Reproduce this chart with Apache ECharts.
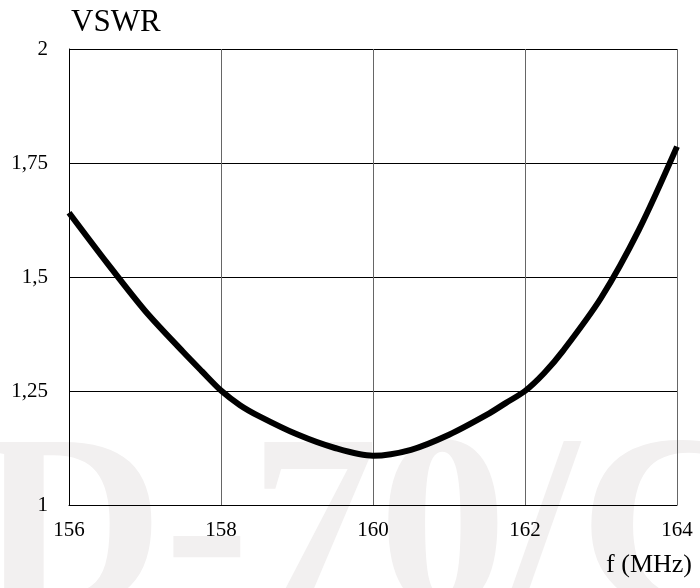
<!DOCTYPE html>
<html>
<head>
<meta charset="utf-8">
<script src="https://cdn.jsdelivr.net/npm/echarts@6/dist/echarts.min.js"></script>
<style>
  html, body { margin: 0; padding: 0; background: #fff; }
  #chart { width: 700px; height: 588px; }
</style>
</head>
<body>
<div id="chart"></div>
<script>
// frequency (MHz) and VSWR
const freq = [156, 156.5, 157, 157.5, 157.75, 158, 158.25, 158.5, 159, 159.5, 160, 160.5, 161, 161.5, 161.75, 162, 162.25, 162.5, 163, 163.5, 164];
const vswr = [1.641, 1.531, 1.426, 1.336, 1.293, 1.251, 1.219, 1.195, 1.155, 1.125, 1.108, 1.121, 1.154, 1.198, 1.224, 1.250, 1.289, 1.338, 1.454, 1.604, 1.786];
const xTicks = [156, 158, 160, 162, 164];
const yTicks = [1, 1.25, 1.5, 1.75, 2];

const serif = '"Liberation Serif", "DejaVu Serif", serif';
const chart = echarts.init(document.getElementById('chart'));

chart.setOption({
  animation: false,
  backgroundColor: '#fff',
  grid: { left: 69, right: 23, top: 49, bottom: 83 },
  // watermark + axis captions
  graphic: [
    {
      type: 'text', z: -100, x: -22, y: 541, scaleX: 1.03,
      silent: true,
      style: {
        text: 'D-70/C', fill: '#f2f0f0',
        font: 'bold 250px ' + serif, verticalAlign: 'middle'
      }
    },
    {
      type: 'text', x: 71, y: 23,
      style: { text: 'VSWR', fill: '#000', font: '31px ' + serif, verticalAlign: 'middle' }
    },
    {
      type: 'text', x: 692, y: 565,
      style: { text: 'f (MHz)', fill: '#000', font: '26px ' + serif, align: 'right', verticalAlign: 'middle' }
    }
  ],
  xAxis: {
    type: 'value',
    min: xTicks[0], max: xTicks[xTicks.length - 1], interval: 2,
    axisLine: { show: true, lineStyle: { color: '#000', width: 1 } },
    axisTick: { show: false },
    axisLabel: { color: '#000', fontFamily: serif, fontSize: 21, margin: 15 },
    splitLine: { show: true, lineStyle: { color: '#666', width: 1 } }
  },
  yAxis: {
    type: 'value',
    min: yTicks[0], max: yTicks[yTicks.length - 1], interval: 0.25,
    axisLine: { show: true, lineStyle: { color: '#000', width: 1 } },
    axisTick: { show: false },
    axisLabel: {
      color: '#000', fontFamily: serif, fontSize: 21, margin: 21,
      padding: [0, 0, 6, 0],
      formatter: v => String(v).replace('.', ',')
    },
    splitLine: { show: true, lineStyle: { color: '#000', width: 1 } }
  },
  series: [{
    type: 'line',
    data: freq.map((f, i) => [f, vswr[i]]),
    smooth: 0.3,
    showSymbol: false,
    lineStyle: { color: '#000', width: 6 }
  }]
});
</script>
</body>
</html>
